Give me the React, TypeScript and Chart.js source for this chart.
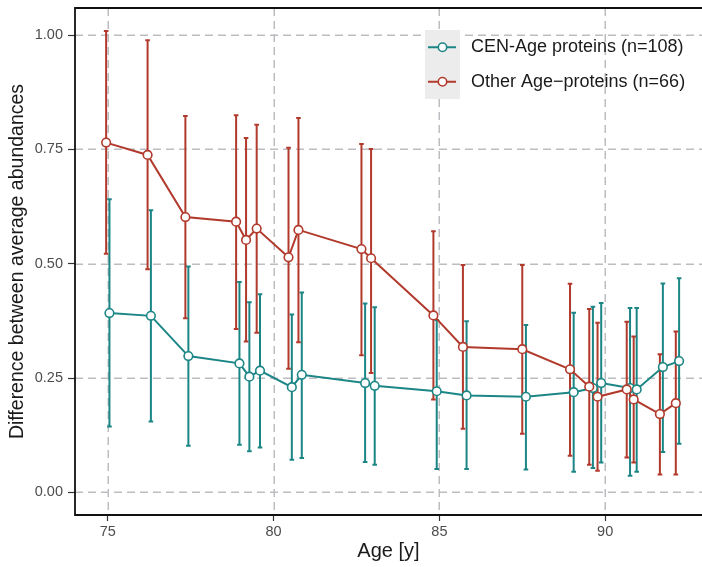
import React, { useEffect, useRef } from "react";
import { Chart, registerables } from "chart.js";

Chart.register(...registerables);

const FONT = '"Liberation Sans", Arial, Helvetica, sans-serif';
const TEAL = "#1c8686";
const RED = "#b23a2c";
const GRID = "#bdbdc1";

const xTicks = [75, 80, 85, 90];
const yTicks = [0, 0.25, 0.5, 0.75, 1.0];
const seriesNames = ["CEN-Age proteins (n=108)", "Other Age\u2212proteins (n=66)"];
const xTitle = "Age [y]";
const yTitle = "Difference between average abundances";

// CEN-Age proteins
const ageCEN = [75.05, 76.3, 77.43, 78.97, 79.27, 79.59, 80.55, 80.85, 82.76, 83.05, 84.92, 85.82, 87.61, 89.05, 89.63, 89.88, 90.75, 90.95, 91.74, 92.23];
const meanCEN = [0.392, 0.386, 0.298, 0.282, 0.253, 0.266, 0.23, 0.257, 0.239, 0.233, 0.221, 0.212, 0.209, 0.219, 0.228, 0.239, 0.228, 0.225, 0.274, 0.287];
const highCEN = [0.641, 0.617, 0.494, 0.46, 0.416, 0.433, 0.389, 0.437, 0.413, 0.405, 0.377, 0.374, 0.366, 0.393, 0.406, 0.414, 0.403, 0.403, 0.457, 0.468];
const lowCEN = [0.144, 0.155, 0.102, 0.104, 0.09, 0.098, 0.071, 0.075, 0.066, 0.06, 0.051, 0.051, 0.05, 0.045, 0.053, 0.065, 0.036, 0.045, 0.088, 0.106];

// Other Age-proteins
const ageOther = [74.95, 76.2, 77.34, 78.87, 79.17, 79.49, 80.45, 80.75, 82.65, 82.94, 84.82, 85.71, 87.5, 88.94, 89.52, 89.77, 90.65, 90.86, 91.65, 92.13];
const meanOther = [0.765, 0.738, 0.602, 0.592, 0.552, 0.577, 0.514, 0.574, 0.532, 0.512, 0.387, 0.318, 0.313, 0.269, 0.231, 0.209, 0.225, 0.203, 0.171, 0.195];
const highOther = [1.009, 0.989, 0.823, 0.825, 0.775, 0.804, 0.754, 0.819, 0.762, 0.751, 0.571, 0.497, 0.497, 0.456, 0.401, 0.371, 0.373, 0.341, 0.302, 0.352];
const lowOther = [0.522, 0.488, 0.381, 0.357, 0.33, 0.349, 0.27, 0.328, 0.3, 0.261, 0.203, 0.139, 0.128, 0.08, 0.06, 0.047, 0.076, 0.065, 0.039, 0.039];

const groups = [
  { name: seriesNames[0], color: TEAL, x: ageCEN, mean: meanCEN, lo: lowCEN, hi: highCEN },
  { name: seriesNames[1], color: RED, x: ageOther, mean: meanOther, lo: lowOther, hi: highOther },
];

const toPts = (xs: number[], ys: number[]) => xs.map((x, i) => ({ x, y: ys[i] }));

const backgroundPlugin = {
  id: "bgGridErr",
  beforeDatasetsDraw(chart: any) {
    const { ctx, chartArea: a, scales } = chart;
    const x = scales.x;
    const y = scales.y;
    ctx.save();
    ctx.beginPath();
    ctx.rect(a.left, a.top, a.right - a.left, a.bottom - a.top);
    ctx.clip();
    ctx.strokeStyle = GRID;
    ctx.lineWidth = 1.5;
    ctx.setLineDash([8, 5]);
    for (const v of yTicks) {
      const py = Math.round(y.getPixelForValue(v)) + 0.25;
      ctx.beginPath();
      ctx.moveTo(a.left, py);
      ctx.lineTo(a.right, py);
      ctx.stroke();
    }
    for (const v of xTicks) {
      const px = Math.round(x.getPixelForValue(v)) + 0.25;
      ctx.beginPath();
      ctx.moveTo(px, a.top);
      ctx.lineTo(px, a.bottom);
      ctx.stroke();
    }
    ctx.setLineDash([]);
    // error bars
    for (const g of groups) {
      ctx.strokeStyle = g.color;
      ctx.lineWidth = 2;
      for (let i = 0; i < g.x.length; i++) {
        const px = x.getPixelForValue(g.x[i]);
        const p1 = y.getPixelForValue(g.lo[i]);
        const p2 = y.getPixelForValue(g.hi[i]);
        ctx.beginPath();
        ctx.moveTo(px, p1);
        ctx.lineTo(px, p2);
        ctx.moveTo(px - 2.3, p1);
        ctx.lineTo(px + 2.3, p1);
        ctx.moveTo(px - 2.3, p2);
        ctx.lineTo(px + 2.3, p2);
        ctx.stroke();
      }
    }
    ctx.restore();
  },
};

const frameLegendPlugin = {
  id: "frameLegend",
  afterDraw(chart: any) {
    const { ctx, chartArea: a } = chart;
    ctx.save();
    // panel border (top, left, bottom)
    ctx.strokeStyle = "#111";
    ctx.lineWidth = 1.8;
    ctx.beginPath();
    ctx.moveTo(a.right + 2, a.top);
    ctx.lineTo(a.left, a.top);
    ctx.lineTo(a.left, a.bottom);
    ctx.lineTo(a.right + 2, a.bottom);
    ctx.stroke();

    // legend
    const kx = a.left + 350;
    const ky = a.top + 22;
    const kw = 35;
    const kh = 34.5;
    ctx.fillStyle = "#ebeceb";
    ctx.fillRect(kx, ky, kw, kh * 2);
    groups.forEach((g, i) => {
      const cy = ky + kh * i + kh / 2;
      ctx.strokeStyle = g.color;
      ctx.lineWidth = 2;
      ctx.beginPath();
      ctx.moveTo(kx + 3, cy);
      ctx.lineTo(kx + kw - 4, cy);
      ctx.stroke();
      ctx.beginPath();
      ctx.arc(kx + kw / 2, cy, 4.2, 0, Math.PI * 2);
      ctx.fillStyle = "#fff";
      ctx.fill();
      ctx.lineWidth = 1.6;
      ctx.stroke();
      ctx.fillStyle = "#1a1a1a";
      ctx.font = `18px ${FONT}`;
      ctx.textBaseline = "middle";
      ctx.textAlign = "left";
      ctx.fillText(g.name, kx + kw + 11, cy);
    });
    ctx.restore();
  },
};

export default function App() {
  const ref = useRef<HTMLCanvasElement>(null);
  useEffect(() => {
    document.body.style.margin = "0";
    const lineDs = groups.map((g, i) => ({
      label: g.name + " line",
      data: toPts(g.x, g.mean),
      showLine: true,
      borderColor: g.color,
      borderWidth: 2,
      pointRadius: 0,
      order: 10 + i,
    }));
    const ptDs = groups.map((g, i) => ({
      label: g.name,
      data: toPts(g.x, g.mean),
      showLine: false,
      borderColor: g.color,
      backgroundColor: "#ffffff",
      pointBackgroundColor: "#ffffff",
      pointBorderColor: g.color,
      pointBorderWidth: 1.6,
      pointRadius: 4.3,
      order: 2 - i,
    }));
    const chart = new Chart(ref.current as HTMLCanvasElement, {
      type: "scatter",
      data: { datasets: [...lineDs, ...ptDs] as any },
      plugins: [backgroundPlugin, frameLegendPlugin],
      options: {
        animation: false,
        responsive: false,
        maintainAspectRatio: false,
        devicePixelRatio: 1,
        layout: { autoPadding: false, padding: { top: 8, right: 0, left: 0, bottom: 0 } },
        plugins: { legend: { display: false }, tooltip: { enabled: false } },
        scales: {
          x: {
            type: "linear",
            min: 74.011,
            max: 92.92,
            afterBuildTicks: (s: any) => {
              s.ticks = xTicks.map((v) => ({ value: v }));
            },
            afterFit: (s: any) => {
              s.height = 52;
              s.paddingLeft = 0;
              s.paddingRight = 0;
            },
            grid: { drawOnChartArea: false, drawTicks: true, tickLength: 6, tickColor: "#333", tickWidth: 1.2 },
            border: { display: false },
            ticks: { color: "#4d4d4d", font: { family: FONT, size: 14.5 }, padding: 2, maxRotation: 0 },
            title: { display: true, text: xTitle, color: "#1a1a1a", font: { family: FONT, size: 20 }, padding: { top: 0, bottom: 3.5 } },
          },
          y: {
            type: "linear",
            min: -0.0497,
            max: 1.0595,
            afterBuildTicks: (s: any) => {
              s.ticks = yTicks.map((v) => ({ value: v }));
            },
            afterFit: (s: any) => {
              s.width = 75;
              s.paddingTop = 0;
              s.paddingBottom = 0;
            },
            grid: { drawOnChartArea: false, drawTicks: true, tickLength: 7, tickColor: "#333", tickWidth: 1.2 },
            border: { display: false },
            ticks: {
              color: "#4d4d4d",
              font: { family: FONT, size: 14.5 },
              padding: 5,
              callback: (v: any) => Number(v).toFixed(2),
            },
            title: { display: true, text: yTitle, color: "#1a1a1a", font: { family: FONT, size: 19.5 }, padding: { top: 5.5, bottom: 0 } },
          },
        },
      } as any,
    });
    return () => chart.destroy();
  }, []);
  return (
    <div style={{ position: "absolute", left: 0, top: 0, width: 702, height: 567 }}>
      <canvas ref={ref} width={702} height={567} style={{ display: "block" }} />
    </div>
  );
}
